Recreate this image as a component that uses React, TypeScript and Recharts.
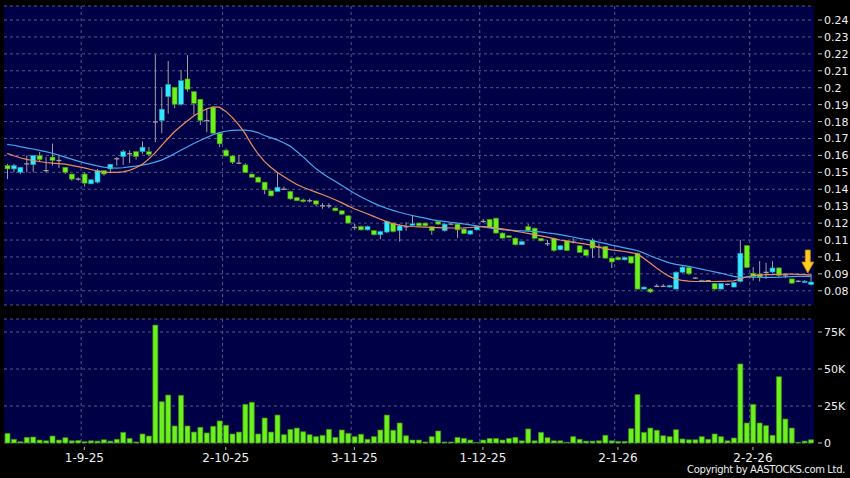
import { ComposedChart, BarChart, Bar, Line, XAxis, YAxis, CartesianGrid, ReferenceDot } from "recharts";

// trading days, 14 Aug 2025 .. 13 Feb 2026
const dates = [
  "14-8-25", "15-8-25", "18-8-25", "19-8-25", "20-8-25", "21-8-25", "22-8-25", "25-8-25", "26-8-25", "27-8-25", "28-8-25", "29-8-25",
  "1-9-25", "2-9-25", "3-9-25", "4-9-25", "5-9-25", "8-9-25", "9-9-25", "10-9-25", "11-9-25", "12-9-25", "15-9-25", "16-9-25",
  "17-9-25", "18-9-25", "19-9-25", "22-9-25", "23-9-25", "24-9-25", "25-9-25", "26-9-25", "29-9-25", "30-9-25",
  "2-10-25", "3-10-25", "6-10-25", "8-10-25", "9-10-25", "10-10-25", "13-10-25", "14-10-25", "15-10-25", "16-10-25",
  "17-10-25", "20-10-25", "21-10-25", "22-10-25", "23-10-25", "24-10-25", "27-10-25", "28-10-25", "30-10-25", "31-10-25",
  "3-11-25", "4-11-25", "5-11-25", "6-11-25", "7-11-25", "10-11-25", "11-11-25", "12-11-25", "13-11-25", "14-11-25",
  "17-11-25", "18-11-25", "19-11-25", "20-11-25", "21-11-25", "24-11-25", "25-11-25", "26-11-25", "27-11-25", "28-11-25",
  "1-12-25", "2-12-25", "3-12-25", "4-12-25", "5-12-25", "8-12-25", "9-12-25", "10-12-25", "11-12-25", "12-12-25",
  "15-12-25", "16-12-25", "17-12-25", "18-12-25", "19-12-25", "22-12-25", "23-12-25", "24-12-25", "29-12-25", "30-12-25", "31-12-25",
  "2-1-26", "5-1-26", "6-1-26", "7-1-26", "8-1-26", "9-1-26", "12-1-26", "13-1-26", "14-1-26", "15-1-26", "16-1-26",
  "19-1-26", "20-1-26", "21-1-26", "22-1-26", "23-1-26", "26-1-26", "27-1-26", "28-1-26", "29-1-26", "30-1-26",
  "2-2-26", "3-2-26", "4-2-26", "5-2-26", "6-2-26", "9-2-26", "10-2-26", "11-2-26", "12-2-26", "13-2-26",
];

const openP = [
  0.154, 0.152, 0.15, 0.155, 0.1545, 0.16, 0.151, 0.159, 0.157, 0.153,
  0.149, 0.146, 0.149, 0.1432, 0.1442, 0.151, 0.152, 0.158, 0.1593, 0.161,
  0.1622, 0.1622, 0.1622, 0.1798, 0.1806, 0.1947, 0.2003, 0.1902, 0.2052, 0.1977,
  0.1932, 0.1806, 0.1885, 0.1731, 0.1631, 0.1597, 0.1554, 0.1544, 0.149, 0.1471,
  0.1442, 0.1391, 0.1387, 0.14, 0.1387, 0.1351, 0.1337, 0.1332, 0.1332, 0.1302,
  0.1302, 0.1289, 0.1273, 0.1243, 0.1174, 0.118, 0.116, 0.1156, 0.1131, 0.1147,
  0.12, 0.1155, 0.1178, 0.1186, 0.12, 0.12, 0.118, 0.1209, 0.1155, 0.1194,
  0.1194, 0.1165, 0.1135, 0.116, 0.121, 0.1222, 0.1229, 0.1141, 0.1125, 0.1111,
  0.1072, 0.118, 0.117, 0.111, 0.1078, 0.111, 0.1042, 0.1097, 0.1088, 0.1066,
  0.1042, 0.1097, 0.1058, 0.1062, 0.0993, 0.0997, 0.0983, 0.1003, 0.1022, 0.081,
  0.081, 0.0826, 0.0826, 0.0822, 0.081, 0.091, 0.0938, 0.0875, 0.0855, 0.086,
  0.0844, 0.081, 0.0838, 0.0822, 0.0855, 0.1067, 0.0904, 0.0899, 0.0909, 0.0911,
  0.0935, 0.0893, 0.087, 0.0856, 0.0851, 0.0836,
];
const highP = [
  0.155, 0.155, 0.153, 0.16, 0.16, 0.162, 0.159, 0.167, 0.16, 0.153,
  0.149, 0.147, 0.15, 0.146, 0.152, 0.151, 0.155, 0.159, 0.1633, 0.163,
  0.1628, 0.1682, 0.165, 0.2197, 0.1996, 0.2158, 0.2003, 0.2105, 0.2193, 0.1977,
  0.1932, 0.1879, 0.189, 0.1737, 0.164, 0.16, 0.1603, 0.1554, 0.149, 0.1475,
  0.1442, 0.1391, 0.1495, 0.1415, 0.1392, 0.1355, 0.1345, 0.1345, 0.1332, 0.1318,
  0.1318, 0.1292, 0.1275, 0.1245, 0.1196, 0.1185, 0.1185, 0.116, 0.1155, 0.1215,
  0.1205, 0.1195, 0.1205, 0.1249, 0.1202, 0.1202, 0.1182, 0.1212, 0.1198, 0.1198,
  0.1196, 0.1168, 0.1158, 0.1183, 0.1225, 0.1225, 0.1232, 0.1145, 0.1128, 0.1115,
  0.1094, 0.1195, 0.1172, 0.1112, 0.11, 0.1115, 0.107, 0.11, 0.1112, 0.107,
  0.1045, 0.111, 0.108, 0.1065, 0.0995, 0.1, 0.1, 0.1005, 0.1025, 0.0825,
  0.0816, 0.084, 0.084, 0.0835, 0.0915, 0.0945, 0.094, 0.088, 0.0865, 0.0862,
  0.0846, 0.0846, 0.0842, 0.0852, 0.1101, 0.107, 0.094, 0.0975, 0.0965, 0.0975,
  0.094, 0.09, 0.0872, 0.0862, 0.0862, 0.09,
];
const lowP = [
  0.146, 0.15, 0.149, 0.15, 0.15, 0.156, 0.15, 0.154, 0.1525, 0.149,
  0.145, 0.145, 0.1416, 0.143, 0.1435, 0.148, 0.15, 0.154, 0.1544, 0.1555,
  0.1575, 0.161, 0.1595, 0.1678, 0.1731, 0.1846, 0.1879, 0.1895, 0.1977, 0.1839,
  0.178, 0.1737, 0.1727, 0.165, 0.1592, 0.155, 0.1548, 0.1495, 0.1468, 0.144,
  0.1371, 0.1358, 0.1385, 0.1395, 0.1338, 0.133, 0.1322, 0.1322, 0.13, 0.1285,
  0.1288, 0.127, 0.125, 0.1198, 0.116, 0.1157, 0.1157, 0.1128, 0.1105, 0.114,
  0.1145, 0.1091, 0.1155, 0.1183, 0.118, 0.118, 0.1131, 0.119, 0.115, 0.1188,
  0.1113, 0.1135, 0.113, 0.1157, 0.12, 0.117, 0.1138, 0.1108, 0.1112, 0.1068,
  0.107, 0.115, 0.1108, 0.1092, 0.1065, 0.103, 0.104, 0.1035, 0.108, 0.1024,
  0.1005, 0.0995, 0.0995, 0.099, 0.0935, 0.098, 0.098, 0.096, 0.0808, 0.0808,
  0.0786, 0.0822, 0.0822, 0.082, 0.0808, 0.0905, 0.0895, 0.087, 0.0852, 0.0855,
  0.0808, 0.0808, 0.0832, 0.082, 0.085, 0.0935, 0.086, 0.0855, 0.087, 0.0905,
  0.088, 0.0875, 0.084, 0.085, 0.0845, 0.0832,
];
const closeP = [
  0.152, 0.154, 0.153, 0.155, 0.16, 0.1575, 0.151, 0.157, 0.157, 0.15,
  0.146, 0.146, 0.1436, 0.1456, 0.151, 0.149, 0.1548, 0.158, 0.1622, 0.161,
  0.1593, 0.1649, 0.1606, 0.1798, 0.1873, 0.202, 0.1902, 0.2042, 0.1991, 0.1908,
  0.1806, 0.1806, 0.1731, 0.1668, 0.1597, 0.156, 0.1554, 0.1499, 0.1471, 0.1442,
  0.1396, 0.1361, 0.1412, 0.14, 0.1343, 0.1332, 0.1327, 0.1332, 0.1312, 0.1302,
  0.1302, 0.1273, 0.1253, 0.12, 0.1174, 0.116, 0.118, 0.1131, 0.115, 0.1209,
  0.115, 0.1184, 0.1178, 0.1196, 0.1184, 0.1184, 0.1155, 0.1194, 0.1194, 0.1194,
  0.116, 0.1139, 0.1155, 0.118, 0.121, 0.1174, 0.1141, 0.1111, 0.1115, 0.1072,
  0.1091, 0.1156, 0.111, 0.1095, 0.1078, 0.1038, 0.1066, 0.1038, 0.1088, 0.1027,
  0.1009, 0.1052, 0.1058, 0.0993, 0.097, 0.0983, 0.0997, 0.0964, 0.081, 0.0822,
  0.0793, 0.0826, 0.0826, 0.0832, 0.091, 0.094, 0.09, 0.0875, 0.0862, 0.086,
  0.081, 0.0844, 0.0838, 0.0849, 0.1022, 0.0938, 0.0885, 0.0881, 0.0909, 0.0935,
  0.0891, 0.0893, 0.0845, 0.0856, 0.0857, 0.0852,
];

// moving averages as drawn (short = orange, long = blue)
const maShort = [
  0.1612, 0.1598, 0.1586, 0.1577, 0.157, 0.1564, 0.1558, 0.1554, 0.1551, 0.1548,
  0.1541, 0.1534, 0.1526, 0.1517, 0.1508, 0.1502, 0.15, 0.15, 0.1503, 0.1512,
  0.1527, 0.1547, 0.1578, 0.1615, 0.1658, 0.17, 0.174, 0.1772, 0.1803, 0.1833,
  0.1857, 0.1874, 0.1886, 0.1885, 0.186, 0.1825, 0.1782, 0.173, 0.1665, 0.161,
  0.1565, 0.153, 0.15, 0.1475, 0.1452, 0.143, 0.1412, 0.1397, 0.1383, 0.1369,
  0.1354, 0.1338, 0.1321, 0.1302, 0.1285, 0.127, 0.1255, 0.124, 0.1224, 0.1209,
  0.1196, 0.1188, 0.1183, 0.118, 0.1178, 0.1176, 0.1174, 0.1173, 0.1172, 0.1171,
  0.1171, 0.1172, 0.1174, 0.1177, 0.118, 0.1176, 0.117, 0.1166, 0.116, 0.1153,
  0.1146, 0.1139, 0.1132, 0.1125, 0.1117, 0.1108, 0.11, 0.1093, 0.1087, 0.1082,
  0.1076, 0.1068, 0.1058, 0.1049, 0.1042, 0.1037, 0.1032, 0.1026, 0.1019, 0.0992,
  0.0964, 0.0935, 0.0908, 0.0885, 0.0868, 0.0862, 0.0857, 0.0855, 0.0855, 0.0855,
  0.0855, 0.0856, 0.0857, 0.0859, 0.0868, 0.0883, 0.0889, 0.0892, 0.0895, 0.0895,
  0.0897, 0.0899, 0.0898, 0.0897, 0.0895, 0.0893,
];
const maLong = [
  0.1665, 0.166, 0.1652, 0.1645, 0.1638, 0.163, 0.1622, 0.1613, 0.1602, 0.159,
  0.1578, 0.1566, 0.1556, 0.1547, 0.1538, 0.1531, 0.1527, 0.1525, 0.1527, 0.1532,
  0.1537, 0.1543, 0.155, 0.156, 0.1572, 0.159, 0.161, 0.163, 0.165, 0.167,
  0.1688, 0.1705, 0.1722, 0.1735, 0.1743, 0.1748, 0.175, 0.175, 0.1745, 0.1735,
  0.1718, 0.1705, 0.1692, 0.1675, 0.1655, 0.1625, 0.1593, 0.1557, 0.1522, 0.1495,
  0.147, 0.1447, 0.1423, 0.14, 0.1376, 0.1356, 0.1336, 0.1318, 0.1302, 0.1288,
  0.1275, 0.1264, 0.1254, 0.1245, 0.1237, 0.1229, 0.1221, 0.1215, 0.121, 0.1205,
  0.12, 0.1195, 0.119, 0.1184, 0.1178, 0.1172, 0.1166, 0.1162, 0.1158, 0.1156,
  0.1154, 0.1152, 0.115, 0.1148, 0.1142, 0.1138, 0.1132, 0.1125, 0.1118, 0.111,
  0.1103, 0.1096, 0.1088, 0.108, 0.107, 0.1062, 0.1054, 0.1046, 0.1038, 0.1024,
  0.1007, 0.0992, 0.0978, 0.0965, 0.0956, 0.095, 0.0944, 0.0936, 0.0928, 0.092,
  0.0912, 0.0904, 0.0895, 0.0885, 0.0879, 0.088, 0.0881, 0.088, 0.0879, 0.0879,
  0.088, 0.0882, 0.0884, 0.0885, 0.0885, 0.0885,
];

// volume in thousands of shares
const volumeK = [
  6.5, 2.5, 0.9, 3.8, 4.0, 2.0, 1.5, 4.7, 2.0, 3.6,
  1.5, 1.7, 0.9, 1.5, 1.3, 2.2, 1.3, 2.5, 7.2, 3.1,
  0.7, 6.1, 4.7, 79.7, 27.9, 32.4, 11.5, 32.2, 11.5, 7.4,
  10.6, 6.8, 11.3, 14.9, 12.0, 6.1, 7.4, 26.1, 27.5, 6.1,
  16.9, 7.4, 18.9, 5.6, 9.2, 10.1, 7.6, 5.6, 4.3, 5.2,
  9.2, 3.8, 8.8, 6.5, 4.3, 5.9, 2.5, 4.3, 8.8, 18.9,
  8.6, 13.5, 4.9, 2.0, 2.0, 0.7, 4.3, 8.1, 0.7, 0.7,
  3.8, 3.1, 2.0, 0.3, 2.0, 3.1, 3.1, 2.0, 3.1, 3.8,
  1.5, 9.5, 1.5, 7.2, 3.6, 1.5, 1.5, 0.5, 4.3, 2.5,
  1.3, 1.3, 1.5, 5.2, 1.5, 1.1, 1.1, 9.7, 32.7, 7.2,
  10.1, 8.6, 4.9, 4.3, 9.0, 2.7, 2.2, 2.2, 4.3, 2.5,
  6.1, 4.3, 1.5, 3.4, 53.4, 13.5, 26.1, 13.5, 11.7, 5.2,
  44.8, 16.2, 10.1, 0.5, 1.3, 2.2,
];

const dateTicks = ["1-9-25", "2-10-25", "3-11-25", "1-12-25", "2-1-26", "2-2-26"];
const priceTicks = [0.08, 0.09, 0.1, 0.11, 0.12, 0.13, 0.14, 0.15, 0.16, 0.17, 0.18, 0.19, 0.2, 0.21, 0.22, 0.23, 0.24];
const volumeTicks = [0, 25, 50, 75];
const markerDate = "13-2-26";
const markerPrice = 0.0905;

const NAVY = "#000046";
const GRID = "#56568a";
const GREEN = "#6cf01e";
const GREEN_EDGE = "#3b8d12";
const CYAN = "#33e8ff";
const CYAN_EDGE = "#1b8e9e";
const WICK = "#a0a0a0";
const TEXT = "#eeeeee";
const FONT = "DejaVu Sans";

const rows = dates.map((date, i) => ({
  date,
  open: openP[i],
  high: highP[i],
  low: lowP[i],
  close: closeP[i],
  range: [lowP[i], highP[i]],
  maShort: maShort[i],
  maLong: maLong[i],
  volume: volumeK[i],
}));

// month gridlines sit on the left edge of the first trading day's slot
const monthLines = ({ offset }: any) => {
  if (!offset || typeof offset.left !== "number") return [];
  const band = offset.width / dates.length;
  return dateTicks.map((d) => offset.left + dates.indexOf(d) * band);
};

function Candle(props: any) {
  const { x, y, width, height, payload } = props;
  if (x == null || y == null || !payload) return null;
  const top = Math.min(y, y + height);
  const h = Math.abs(height);
  const { open, close, high, low } = payload;
  const k = high > low ? h / (high - low) : 0;
  const py = (v: number) => top + (high - v) * k;
  const cx = x + width / 2;
  const up = close > open;
  const down = close < open;
  const bTop = py(Math.max(open, close));
  const bBot = py(Math.min(open, close));
  return (
    <g>
      <line x1={cx} x2={cx} y1={top} y2={top + h} stroke={WICK} strokeWidth={1} />
      {up || down ? (
        <rect
          x={x}
          y={bTop}
          width={width}
          height={Math.max(bBot - bTop, 1.5)}
          fill={up ? CYAN : GREEN}
          stroke={up ? CYAN_EDGE : GREEN_EDGE}
          strokeWidth={0.6}
        />
      ) : (
        <line x1={x} x2={x + width} y1={bTop} y2={bTop} stroke={WICK} strokeWidth={1.3} />
      )}
    </g>
  );
}

function Arrow(props: any) {
  const { cx, cy } = props;
  if (cx == null || cy == null) return null;
  const c = cx - 3;
  const d = `M${c - 2.5},${cy - 23} L${c + 2.5},${cy - 23} L${c + 2.5},${cy - 11} L${c + 6},${cy - 11} L${c},${cy} L${c - 6},${cy - 11} L${c - 2.5},${cy - 11} Z`;
  return <path d={d} fill="#ffcc22" stroke="#c98a00" strokeWidth={0.8} />;
}

const fmtPrice = (v: number) => String(Number(v.toFixed(2)));
const fmtVol = (v: number) => (v === 0 ? "0" : `${v}K`);

function RightTick(props: any) {
  const { x, y, payload, fmt } = props;
  return (
    <g>
      <line x1={x + 4} x2={x + 8} y1={y} y2={y} stroke="#bbbbbb" strokeWidth={1} />
      <text x={x + 10} y={y} dy="0.36em" textAnchor="start" fill={TEXT} fontSize={11} fontFamily={FONT}>
        {fmt(payload.value)}
      </text>
    </g>
  );
}

function DateTick(props: any) {
  const { x, y, payload } = props;
  return (
    <g>
      <line x1={x} x2={x} y1={y + 4} y2={y + 7} stroke="#bbbbbb" strokeWidth={1} />
      <text x={x} y={y + 18.5} textAnchor="middle" fill={TEXT} fontSize={12} fontFamily={FONT}>
        {payload.value}
      </text>
    </g>
  );
}

export default function App() {
  return (
    <div style={{ position: "absolute", left: 0, top: 0, width: 850, height: 478, background: "#000", overflow: "hidden" }}>
      <div style={{ position: "absolute", left: 0, top: 0 }}>
        <ComposedChart width={850} height={310} data={rows} margin={{ top: 6, right: 0, bottom: 5, left: 4 }}>
          <CartesianGrid fill={NAVY} stroke={GRID} strokeDasharray="3 3" verticalCoordinatesGenerator={monthLines} />
          <XAxis dataKey="date" hide ticks={dateTicks} interval={0} />
          <YAxis
            orientation="right"
            width={36}
            domain={[0.0716, 0.2483]}
            ticks={priceTicks}
            interval={0}
            axisLine={false}
            tickLine={false}
            tickSize={0}
            tickMargin={0}
            tick={(p: any) => <RightTick {...p} fmt={fmtPrice} />}
          />
          <Bar dataKey="range" barSize={5} shape={<Candle />} isAnimationActive={false} />
          <Line type="linear" dataKey="maLong" stroke="#43a8ec" strokeWidth={1.2} dot={false} isAnimationActive={false} />
          <Line type="linear" dataKey="maShort" stroke="#ee8c5e" strokeWidth={1.2} dot={false} isAnimationActive={false} />
          <ReferenceDot x={markerDate} y={markerPrice} shape={<Arrow />} />
        </ComposedChart>
      </div>
      <div style={{ position: "absolute", left: 0, top: 310 }}>
        <BarChart width={850} height={168} data={rows} margin={{ top: 9, right: 0, bottom: 5, left: 4 }}>
          <CartesianGrid fill={NAVY} stroke={GRID} strokeDasharray="3 3" verticalCoordinatesGenerator={monthLines} />
          <XAxis
            dataKey="date"
            ticks={dateTicks}
            interval={0}
            height={30}
            axisLine={false}
            tickLine={false}
            tickSize={0}
            tickMargin={0}
            tick={<DateTick />}
          />
          <YAxis
            orientation="right"
            width={36}
            domain={[0, 83.8]}
            ticks={volumeTicks}
            interval={0}
            axisLine={false}
            tickLine={false}
            tickSize={0}
            tickMargin={0}
            tick={(p: any) => <RightTick {...p} fmt={fmtVol} />}
          />
          <Bar dataKey="volume" barSize={5} fill={GREEN} stroke={GREEN_EDGE} strokeWidth={0.7} isAnimationActive={false} />
        </BarChart>
      </div>
      <div
        style={{
          position: "absolute",
          right: 5,
          top: 464,
          color: TEXT,
          fontFamily: FONT,
          fontSize: 10,
          letterSpacing: -0.35,
          lineHeight: "12px",
          whiteSpace: "nowrap",
        }}
      >
        Copyright by AASTOCKS.com Ltd.
      </div>
    </div>
  );
}
